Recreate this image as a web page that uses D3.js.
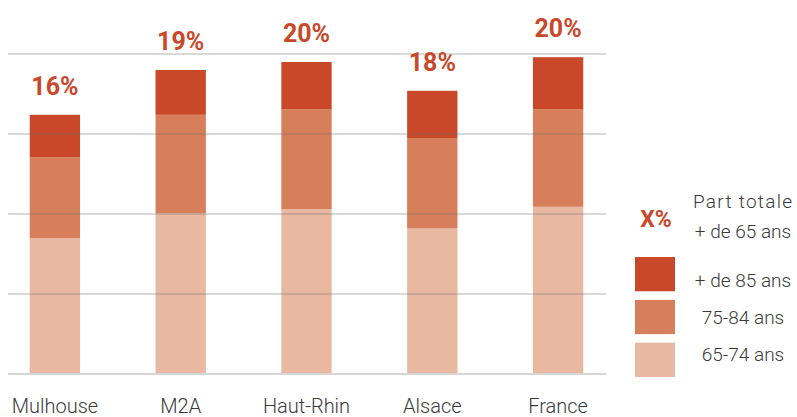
<!DOCTYPE html>
<html>
<head>
<meta charset="utf-8">
<script src="https://cdn.jsdelivr.net/npm/d3@7"></script>
<style>
  body { margin: 0; background: #fff; }
  svg { display: block; }
  .cat { font-family: Roboto, "Open Sans", sans-serif; font-weight: 300; font-size: 20px; fill: #3a3a3a; }
  .legend-text { font-family: Roboto, "Open Sans", sans-serif; font-weight: 300; font-size: 19px; fill: #3a3a3a; }
  .total { font-family: Roboto, sans-serif; font-weight: 700; font-size: 25px; fill: #c9482a; }
</style>
</head>
<body>
<svg width="797" height="417"></svg>
<script>
/* Part des plus de 65 ans, par tranche d'age */
const categories = ['Mulhouse', 'M2A', 'Haut-Rhin', 'Alsace', 'France'];
const ages = ['65-74 ans', '75-84 ans', '+ de 85 ans'];
const age65_74 = [8.5, 10.05, 10.3, 9.1, 10.45];
const age75_84 = [5.05, 6.15, 6.25, 5.65, 6.1];
const age85plus = [2.65, 2.8, 2.95, 2.95, 3.25];
const totalLabels = ['16%', '19%', '20%', '18%', '20%'];
const gridTicks = [0, 5, 10, 15, 20];

const colors = {
  '65-74 ans': '#e8b9a0',
  '75-84 ans': '#d77e5a',
  '+ de 85 ans': '#c9482a',
};

const svg = d3.select('svg');

const rows = categories.map((c, i) => ({
  cat: c,
  '65-74 ans': age65_74[i],
  '75-84 ans': age75_84[i],
  '+ de 85 ans': age85plus[i],
  label: totalLabels[i],
}));

const x = d3.scaleBand().domain(categories).range([-8, 621]).paddingInner(0.6).paddingOuter(0.3);
const y = d3.scaleLinear().domain([0, 20]).range([374, 54]);

const stack = d3.stack().keys(ages)(rows);

// bars
svg.append('g')
  .selectAll('g')
  .data(stack)
  .join('g')
  .attr('fill', (s) => colors[s.key])
  .selectAll('rect')
  .data((s) => s)
  .join('rect')
  .attr('x', (d) => x(d.data.cat))
  .attr('width', x.bandwidth())
  .attr('y', (d) => y(d[1]))
  .attr('height', (d) => y(d[0]) - y(d[1]));

// gridlines drawn over the bars, semi transparent
svg.append('g')
  .selectAll('line')
  .data(gridTicks)
  .join('line')
  .attr('x1', 8)
  .attr('x2', 606)
  .attr('y1', (d) => y(d))
  .attr('y2', (d) => y(d))
  .attr('stroke', (d) => (d === 0 ? '#d6d6d6' : 'rgba(110,110,110,0.26)'))
  .attr('stroke-width', 2);

// totals above bars
const topLayer = stack[stack.length - 1];
svg.append('g')
  .selectAll('text')
  .data(topLayer)
  .join('text')
  .attr('class', 'total')
  .attr('x', (d) => x(d.data.cat) + x.bandwidth() / 2)
  .attr('y', (d) => y(d[1]) - 20)
  .attr('text-anchor', 'middle')
  .text((d) => d.data.label);

// category labels
svg.append('g')
  .selectAll('text')
  .data(categories)
  .join('text')
  .attr('class', 'cat')
  .attr('x', (d) => x(d) + x.bandwidth() / 2)
  .attr('y', 413)
  .attr('text-anchor', 'middle')
  .text((d) => d);

// legend
const legend = svg.append('g');
legend.append('text')
  .attr('class', 'total')
  .attr('x', 656)
  .attr('y', 227)
  .attr('text-anchor', 'middle')
  .style('font-size', '23px')
  .text('X%');
legend.append('text')
  .attr('class', 'legend-text')
  .attr('x', 693)
  .attr('y', 208)
  .attr('textLength', 99)
  .attr('lengthAdjust', 'spacing')
  .text('Part totale');
legend.append('text')
  .attr('class', 'legend-text')
  .attr('x', 743)
  .attr('y', 238)
  .attr('text-anchor', 'middle')
  .text('+ de 65 ans');

const legendKeys = ages.slice().reverse();
const ly = d3.scaleBand().domain(legendKeys).range([257, 377]).paddingInner(0.2);
const lty = d3.scalePoint().domain(legendKeys).range([287, 361]);
legend.selectAll('rect')
  .data(legendKeys)
  .join('rect')
  .attr('x', 635)
  .attr('y', (d) => ly(d))
  .attr('width', 40)
  .attr('height', ly.bandwidth())
  .attr('fill', (d) => colors[d]);
legend.selectAll('text.key')
  .data(legendKeys)
  .join('text')
  .attr('class', 'legend-text key')
  .attr('x', 743)
  .attr('y', (d) => lty(d))
  .attr('text-anchor', 'middle')
  .text((d) => d);
</script>
</body>
</html>
